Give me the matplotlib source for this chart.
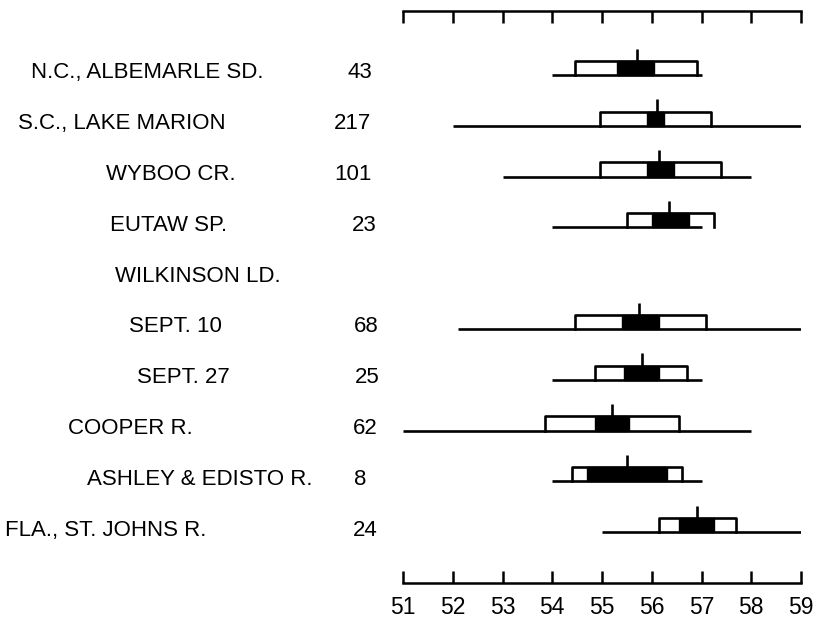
import matplotlib
matplotlib.use("Agg")
import matplotlib.pyplot as plt
import matplotlib.transforms as mtransforms
import numpy as np

plt.rcParams['font.family'] = ['Liberation Sans', 'DejaVu Sans']

# samples, top to bottom (WILKINSON LD. is only a heading)
labels = ["N.C., ALBEMARLE SD.", "S.C., LAKE MARION", "WYBOO CR.", "EUTAW SP.",
          "WILKINSON LD.", "SEPT. 10", "SEPT. 27", "COOPER R.",
          "ASHLEY & EDISTO R.", "FLA., ST. JOHNS R."]
counts = ["43", "217", "101", "23", "", "68", "25", "62", "8", "24"]
nan = np.nan
range_lo = [54.0, 52.0, 53.0, 54.0, nan, 52.1, 54.0, 51.0, 54.0, 55.0]
range_hi = [57.0, 59.0, 58.0, 57.0, nan, 59.0, 57.0, 58.0, 57.0, 59.0]
sd_lo = [54.45, 54.95, 54.95, 55.5, nan, 54.45, 54.85, 53.85, 54.4, 56.15]
sd_hi = [56.9, 57.2, 57.4, 57.25, nan, 57.1, 56.7, 56.55, 56.6, 57.7]
se_lo = [55.3, 55.9, 55.9, 56.0, nan, 55.4, 55.45, 54.85, 54.7, 56.55]
se_hi = [56.05, 56.25, 56.45, 56.75, nan, 56.15, 56.15, 55.55, 56.3, 57.25]
means = [55.7, 56.1, 56.15, 56.35, nan, 55.75, 55.8, 55.2, 55.5, 56.9]
ticks = [51, 52, 53, 54, 55, 56, 57, 58, 59]

# layout (pixels in the 818x623 figure)
W, H = 818, 623
label_x = [31, 18, 106, 110, 115, 129, 137, 68, 87, 5]
count_x = [347, 334, 334, 352, 0, 354, 355, 353, 354, 353]

fig = plt.figure(figsize=(W / 100, H / 100), dpi=100)
ax = fig.add_axes([403 / W, 40 / H, 398 / W, 572 / H])

bh = 0.28   # box height (rows)
mt = 0.24   # mean tick above box
lw = 1.9

for i in range(len(labels)):
    if np.isnan(means[i]):
        continue
    y = i
    # open white box (2 SD) sitting on the range line
    ax.plot([sd_lo[i], sd_lo[i], sd_hi[i], sd_hi[i]], [y, y - bh, y - bh, y],
            color='black', lw=lw, solid_joinstyle='round', zorder=2)
    # black box (2 SE)
    ax.bar(se_lo[i], -bh, width=se_hi[i] - se_lo[i], bottom=y, align='edge',
           color='black', edgecolor='black', lw=1, zorder=3)
    # range
    ax.hlines(y, range_lo[i], range_hi[i], color='black', lw=lw, zorder=3)
    # mean
    ax.vlines(means[i], y - bh, y - bh - mt, color='black', lw=lw, zorder=3)

ax.set_xlim(51, 59)
ax.set_ylim(10.0, -1.26)
ax.set_xticks(ticks)
ax.set_xticklabels([str(t) for t in ticks])
ax.set_yticks([])
for s in ['left', 'right']:
    ax.spines[s].set_visible(False)
for s in ['top', 'bottom']:
    ax.spines[s].set_linewidth(1.8)
ax.tick_params(axis='x', direction='in', length=8.6, width=1.8, top=True,
               bottom=True, labeltop=False, labelsize=16.5, pad=9)

trans = mtransforms.blended_transform_factory(fig.transFigure, ax.transData)
for i, lab in enumerate(labels):
    ax.text(label_x[i] / W, i + 0.065, lab, transform=trans, fontsize=16,
            ha='left', va='baseline', clip_on=False)
    if counts[i]:
        ax.text(count_x[i] / W, i + 0.065, counts[i], transform=trans,
                fontsize=16, ha='left', va='baseline', clip_on=False)

fig.savefig('out.png', dpi=100)
